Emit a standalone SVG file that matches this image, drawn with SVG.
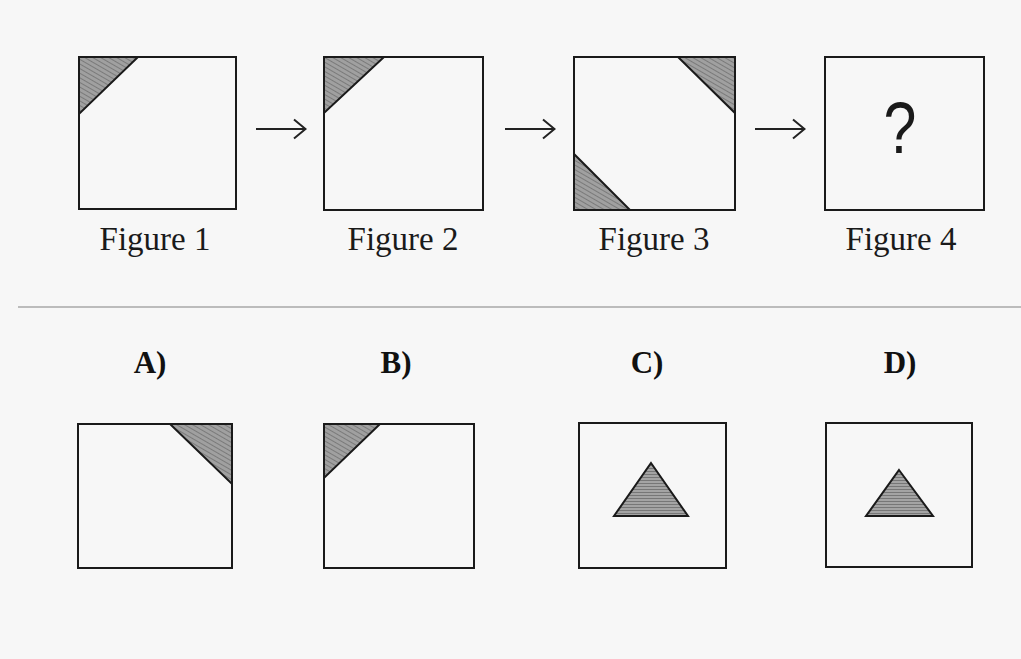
<svg xmlns="http://www.w3.org/2000/svg" width="1021" height="659" viewBox="0 0 1021 659">
<defs>
<pattern id="hatch" width="4" height="4" patternUnits="userSpaceOnUse" patternTransform="rotate(-60)">
<rect width="4" height="4" fill="#a0a0a0"/>
<line x1="0" y1="0" x2="0" y2="4" stroke="#666" stroke-width="1.3"/>
</pattern>
<pattern id="hatchH" width="4" height="3" patternUnits="userSpaceOnUse">
<rect width="4" height="3" fill="#a4a4a4"/>
<line x1="0" y1="0.5" x2="4" y2="0.5" stroke="#777" stroke-width="1"/>
</pattern>
<marker id="arr" viewBox="0 0 15 22" refX="14" refY="11" markerWidth="15" markerHeight="22" markerUnits="userSpaceOnUse" orient="auto">
<path d="M2,1.5 L13.5,11 L2,20.5" fill="none" stroke="#222" stroke-width="2"/>
</marker>
</defs>
<style>
.box{fill:none;stroke:#1a1a1a;stroke-width:2}
.tri{fill:url(#hatch);stroke:#1a1a1a;stroke-width:2;stroke-linejoin:miter}
.ctri{fill:url(#hatchH);stroke:#1a1a1a;stroke-width:2}
.cap{font-family:"Liberation Serif",serif;font-size:33px;fill:#1a1a1a;text-anchor:middle}
.opt{font-family:"Liberation Serif",serif;font-size:31px;font-weight:bold;fill:#111;text-anchor:middle}
.conn{stroke:#222;stroke-width:1.8;fill:none}
</style>
<rect width="1021" height="659" fill="#f7f7f7"/>
<line x1="18" y1="307" x2="1021" y2="307" stroke="#a9a9a9" stroke-width="1.5"/>

<g id="figure1">
<path class="tri" d="M79,57 L138,57 L79,114 Z"/>
<rect class="box" x="79" y="57" width="157" height="152"/>
<text class="cap" x="155" y="250">Figure 1</text>
</g>
<g id="figure2">
<path class="tri" d="M324,57 L384,57 L324,113 Z"/>
<rect class="box" x="324" y="57" width="159" height="153"/>
<text class="cap" x="403" y="250">Figure 2</text>
</g>
<g id="figure3">
<path class="tri" d="M678,57 L735,57 L735,113 Z"/>
<path class="tri" d="M574,154 L574,210 L630,210 Z"/>
<rect class="box" x="574" y="57" width="161" height="153"/>
<text class="cap" x="654" y="250">Figure 3</text>
</g>
<g id="figure4">
<rect class="box" x="825" y="57" width="159" height="153"/>
<text x="0" y="0" transform="translate(900,153) scale(0.82,1)" font-family="'Liberation Sans',sans-serif" font-size="72" fill="#1a1a1a" text-anchor="middle">?</text>
<text class="cap" x="901" y="250">Figure 4</text>
</g>

<g id="connectors">
<line class="conn" x1="256" y1="129" x2="306" y2="129" marker-end="url(#arr)"/>
<line class="conn" x1="505" y1="129" x2="555" y2="129" marker-end="url(#arr)"/>
<line class="conn" x1="755" y1="129" x2="805" y2="129" marker-end="url(#arr)"/>
</g>

<g id="optionA">
<text class="opt" x="150" y="373">A)</text>
<path class="tri" d="M170,424 L232,424 L232,484 Z"/>
<rect class="box" x="78" y="424" width="154" height="144"/>
</g>
<g id="optionB">
<text class="opt" x="396" y="373">B)</text>
<path class="tri" d="M324,424 L380,424 L324,478 Z"/>
<rect class="box" x="324" y="424" width="150" height="144"/>
</g>
<g id="optionC">
<text class="opt" x="647" y="373">C)</text>
<rect class="box" x="579" y="423" width="147" height="145"/>
<path class="ctri" d="M651,463 L688,516 L614,516 Z"/>
</g>
<g id="optionD">
<text class="opt" x="900" y="373">D)</text>
<rect class="box" x="826" y="423" width="146" height="144"/>
<path class="ctri" d="M899,470 L933,516 L866,516 Z"/>
</g>
</svg>
